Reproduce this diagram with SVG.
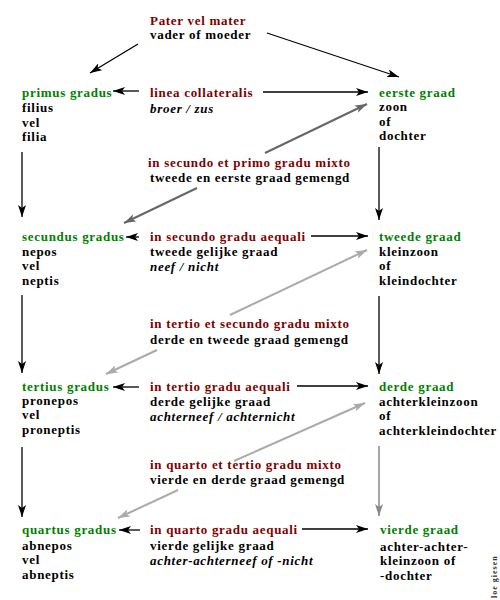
<svg xmlns="http://www.w3.org/2000/svg" width="500" height="600" viewBox="0 0 500 600">
<defs>
<style>
text{font-family:"Liberation Serif","Times New Roman",serif;font-weight:bold;font-size:13px;letter-spacing:0.7px;fill:#000}
.la{fill:#800000}
.gr{fill:#008000}
.it{font-style:italic}
.k{stroke:#000;stroke-width:1.3;fill:none}
.g1{stroke:#666;stroke-width:2;fill:none}
.g2{stroke:#aaa;stroke-width:2;fill:none}
.g3{stroke:#888;stroke-width:1.5;fill:none}
</style>
<marker id="ak" viewBox="0 0 12 8" refX="12" refY="4" markerWidth="12" markerHeight="8" markerUnits="userSpaceOnUse" orient="auto"><path d="M0,0 L12,4 L0,8 L3,4 Z" fill="#000"/></marker>
<marker id="a1" viewBox="0 0 12 8" refX="12" refY="4" markerWidth="12" markerHeight="8" markerUnits="userSpaceOnUse" orient="auto"><path d="M0,0 L12,4 L0,8 L3,4 Z" fill="#666"/></marker>
<marker id="a2" viewBox="0 0 12 8" refX="12" refY="4" markerWidth="12" markerHeight="8" markerUnits="userSpaceOnUse" orient="auto"><path d="M0,0 L12,4 L0,8 L3,4 Z" fill="#aaa"/></marker>
<marker id="a3" viewBox="0 0 12 8" refX="12" refY="4" markerWidth="12" markerHeight="8" markerUnits="userSpaceOnUse" orient="auto"><path d="M0,0 L12,4 L0,8 L3,4 Z" fill="#888"/></marker>
</defs>
<rect width="500" height="600" fill="#fff"/>
<g id="connectors">
<line class="k" x1="138" y1="44" x2="90" y2="73" marker-end="url(#ak)"/>
<line class="k" x1="267" y1="33" x2="399" y2="77" marker-end="url(#ak)"/>
<line class="k" x1="139" y1="91" x2="113" y2="91" marker-end="url(#ak)"/>
<line class="k" x1="263" y1="92" x2="368" y2="92" marker-end="url(#ak)"/>
<line class="g1" x1="265" y1="153" x2="367" y2="104" marker-end="url(#a1)"/>
<line class="g1" x1="197" y1="188" x2="124" y2="223" marker-end="url(#a1)"/>
<line class="k" x1="22" y1="152" x2="22" y2="217" marker-end="url(#ak)"/>
<line class="k" x1="379" y1="147" x2="379" y2="220" marker-end="url(#ak)"/>
<line class="k" x1="139" y1="237" x2="126" y2="237" marker-end="url(#ak)"/>
<line class="k" x1="311" y1="236" x2="368" y2="236" marker-end="url(#ak)"/>
<line class="g2" x1="230" y1="315" x2="367" y2="250" marker-end="url(#a2)"/>
<line class="g2" x1="157" y1="350" x2="106" y2="374" marker-end="url(#a2)"/>
<line class="k" x1="22" y1="295" x2="22" y2="373" marker-end="url(#ak)"/>
<line class="k" x1="379" y1="296" x2="379" y2="374" marker-end="url(#ak)"/>
<line class="k" x1="139" y1="387" x2="113" y2="387" marker-end="url(#ak)"/>
<line class="k" x1="297" y1="386" x2="368" y2="386" marker-end="url(#ak)"/>
<line class="g2" x1="234" y1="461" x2="365" y2="403" marker-end="url(#a2)"/>
<line class="g2" x1="178" y1="490" x2="118" y2="518" marker-end="url(#a2)"/>
<line class="k" x1="22" y1="447" x2="22" y2="517" marker-end="url(#ak)"/>
<line class="g3" x1="379" y1="446" x2="379" y2="516" marker-end="url(#a3)"/>
<line class="k" x1="140" y1="530" x2="119" y2="530" marker-end="url(#ak)"/>
<line class="k" x1="302" y1="529" x2="368" y2="529" marker-end="url(#ak)"/>
</g>
<g id="pater"><text x="150" y="25" class="la">Pater vel mater</text><text x="150" y="39">vader of moeder</text></g>
<g id="primus"><text x="22" y="97" class="gr">primus gradus</text><text x="22" y="112">filius</text><text x="22" y="127">vel</text><text x="22" y="141">filia</text></g>
<g id="linea"><text x="150" y="97" class="la">linea collateralis</text><text x="150" y="113" class="it">broer / zus</text></g>
<g id="eerste"><text x="379" y="97" class="gr">eerste graad</text><text x="379" y="111">zoon</text><text x="379" y="126">of</text><text x="379" y="140">dochter</text></g>
<g id="mixto21"><text x="148" y="167" class="la">in secundo et primo gradu mixto</text><text x="150" y="182">tweede en eerste graad gemengd</text></g>
<g id="secundus"><text x="22" y="241" class="gr">secundus gradus</text><text x="22" y="256">nepos</text><text x="22" y="270">vel</text><text x="22" y="285">neptis</text></g>
<g id="aequali2"><text x="150" y="241" class="la">in secundo gradu aequali</text><text x="150" y="256">tweede gelijke graad</text><text x="150" y="271" class="it">neef / nicht</text></g>
<g id="tweede"><text x="379" y="241" class="gr">tweede graad</text><text x="379" y="256">kleinzoon</text><text x="379" y="270">of</text><text x="379" y="285">kleindochter</text></g>
<g id="mixto32"><text x="150" y="328" class="la">in tertio et secundo gradu mixto</text><text x="150" y="344">derde en tweede graad gemengd</text></g>
<g id="tertius"><text x="22" y="391" class="gr">tertius gradus</text><text x="22" y="405">pronepos</text><text x="22" y="419">vel</text><text x="22" y="434">proneptis</text></g>
<g id="aequali3"><text x="150" y="391" class="la">in tertio gradu aequali</text><text x="150" y="406">derde gelijke graad</text><text x="150" y="421" class="it">achterneef / achternicht</text></g>
<g id="derde"><text x="379" y="391" class="gr">derde graad</text><text x="379" y="406">achterkleinzoon</text><text x="379" y="420">of</text><text x="379" y="435">achterkleindochter</text></g>
<g id="mixto43"><text x="150" y="469" class="la">in quarto et tertio gradu mixto</text><text x="150" y="484">vierde en derde graad gemengd</text></g>
<g id="quartus"><text x="22" y="534" class="gr">quartus gradus</text><text x="22" y="550">abnepos</text><text x="22" y="564">vel</text><text x="22" y="579">abneptis</text></g>
<g id="aequali4"><text x="150" y="534" class="la">in quarto gradu aequali</text><text x="150" y="550">vierde gelijke graad</text><text x="150" y="565" class="it">achter-achterneef of -nicht</text></g>
<g id="vierde"><text x="380" y="534" class="gr">vierde graad</text><text x="380" y="551">achter-achter-</text><text x="380" y="565">kleinzoon of</text><text x="380" y="580">-dochter</text></g>
<text x="0" y="0" transform="translate(497,598) rotate(-90)" style="font-size:8px;letter-spacing:1px;font-weight:bold;fill:#333">loe giesen</text>
</svg>
